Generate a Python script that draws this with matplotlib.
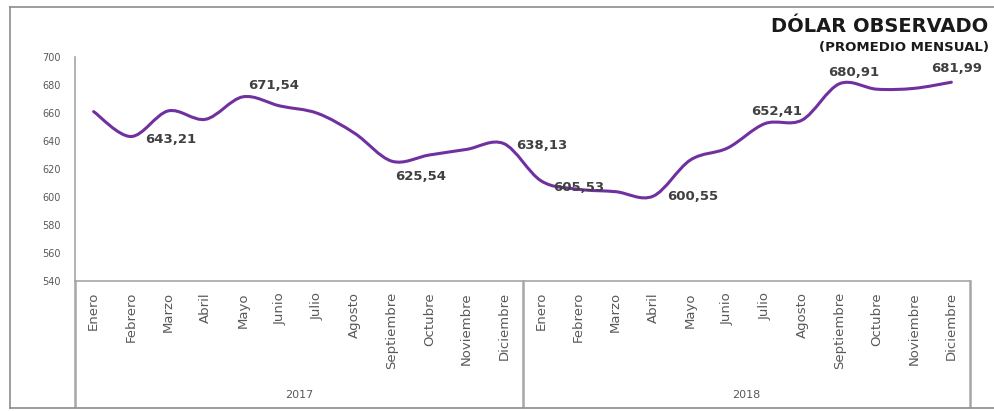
import numpy as np
import matplotlib
matplotlib.use('Agg')
import matplotlib.pyplot as plt
from matplotlib.path import Path
from matplotlib.patches import PathPatch
from matplotlib.lines import Line2D

# Monthly data
months = ['Enero', 'Febrero', 'Marzo', 'Abril', 'Mayo', 'Junio', 'Julio',
          'Agosto', 'Septiembre', 'Octubre', 'Noviembre', 'Diciembre']
years = ['2017', '2018']
values_2017 = [661.0, 643.21, 661.5, 655.5, 671.54, 665.0, 659.8, 645.5,
               625.54, 630.0, 634.0, 638.13]
values_2018 = [611.5, 605.53, 603.8, 600.55, 626.4, 635.0, 652.41, 655.0,
               680.91, 677.0, 677.6, 681.99]
yticks = [540, 560, 580, 600, 620, 640, 660, 680, 700]

# labelled points: index, text, offset (points), alignment
labels = [(1, '643,21', (10, -2), 'left'),
          (4, '671,54', (4, 8), 'left'),
          (8, '625,54', (2, -11), 'left'),
          (11, '638,13', (9, -1), 'left'),
          (13, '605,53', (0, 1), 'center'),
          (15, '600,55', (10, 0), 'left'),
          (18, '652,41', (-10, 9), 'left'),
          (20, '680,91', (-8, 8), 'left'),
          (23, '681,99', (4, 10), 'center')]

values = values_2017 + values_2018
x = np.arange(len(values))
purple = '#7030A0'
gray = '#A6A6A6'
textgray = '#595959'

fig = plt.figure(figsize=(9.94, 4.11), dpi=100)
ax = fig.add_axes([75 / 994, 1 - 281 / 411, 895 / 994, 224 / 411])

# smooth curve through the points (Catmull-Rom as cubic Bezier)
y = np.array(values)
verts = [(x[0], y[0])]
codes = [Path.MOVETO]
for i in range(len(x) - 1):
    p0 = (x[max(i - 1, 0)], y[max(i - 1, 0)])
    p1 = (x[i], y[i])
    p2 = (x[i + 1], y[i + 1])
    p3 = (x[min(i + 2, len(x) - 1)], y[min(i + 2, len(x) - 1)])
    c1 = (p1[0] + (p2[0] - p0[0]) / 6, p1[1] + (p2[1] - p0[1]) / 6)
    c2 = (p2[0] - (p3[0] - p1[0]) / 6, p2[1] - (p3[1] - p1[1]) / 6)
    verts += [c1, c2, p2]
    codes += [Path.CURVE4] * 3
ax.add_patch(PathPatch(Path(verts, codes), fill=False, edgecolor=purple,
                       lw=2.2, capstyle='round'))

for i, txt, off, ha in labels:
    ax.annotate(txt, (x[i], y[i]), xytext=off, textcoords='offset points',
                ha=ha, va='center', fontsize=9.5, fontweight='bold',
                color='#404040')

ax.set_xlim(-0.5, len(values) - 0.5)
ax.set_ylim(540, 700)
ax.set_yticks(yticks)
ax.tick_params(axis='y', length=0, labelsize=7, labelcolor=textgray, pad=10)
ax.set_xticks(x)
ax.set_xticklabels(months * 2, rotation=90, fontsize=9.5, color=textgray,
                   va='top')
ax.tick_params(axis='x', length=0, pad=8)
for s in ['top', 'right']:
    ax.spines[s].set_visible(False)
for s in ['left', 'bottom']:
    ax.spines[s].set_color(gray)
    ax.spines[s].set_linewidth(1.2)

# group dividers and year labels below the axis
for xb in [-0.5, 11.5, 23.5]:
    ax.add_line(Line2D([xb, xb], [0, -125 / 224], transform=ax.get_xaxis_transform(),
                       color=gray, lw=1.8, clip_on=False))
for k, yr in enumerate(years):
    ax.text(5.5 + 12 * k, -114 / 224, yr, transform=ax.get_xaxis_transform(),
            ha='center', va='center', fontsize=8, color=textgray)

# outer frame
for (x0, y0, x1, y1) in [(10, 7, 994, 7), (10, 7, 10, 408), (10, 408, 994, 408)]:
    fig.add_artist(Line2D([x0 / 994, x1 / 994], [1 - y0 / 411, 1 - y1 / 411],
                          color='#8C8C8C', lw=1.2))

fig.text(988 / 994, 1 - 27 / 411, 'DÓLAR OBSERVADO', ha='right', va='center',
         fontsize=14, fontweight='bold', color='#1a1a1a')
fig.text(989 / 994, 1 - 48 / 411, '(PROMEDIO MENSUAL)', ha='right', va='center',
         fontsize=9.5, fontweight='bold', color='#1a1a1a')

fig.savefig('out.png', dpi=100)
